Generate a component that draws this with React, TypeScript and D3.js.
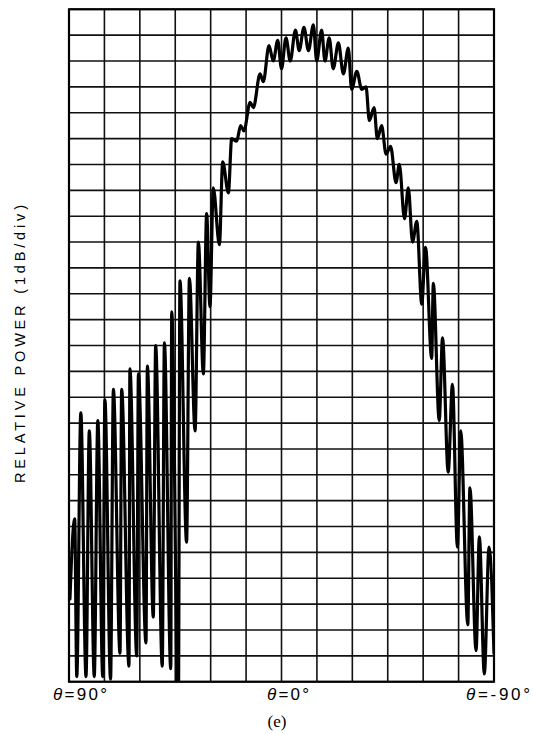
import React from 'react';
import * as d3 from 'd3';

// angle in degrees (left = +90, right = -90)
const angles = [
  89.6, 87.6, 86.7, 85.0, 82.8, 81.4, 79.3, 77.8, 75.7, 74.8, 72.4, 71.2, 68.4, 67.7, 64.6, 64.2,
  61.3, 60.6, 57.4, 56.8, 54.3, 53.3, 50.5, 49.6, 46.9, 46.5, 43.7, 43.0, 40.2, 39.0, 36.6, 35.2,
  33.1, 31.7, 30.3, 28.9, 26.3, 24.9, 22.5, 21.1, 19.0, 17.3, 15.9, 13.3, 11.9, 9.1, 7.7, 5.3,
  3.5, 1.6, 0.0, -1.9, -3.7, -5.9, -7.5, -9.5, -11.4, -13.5, -14.9, -17.0, -18.4, -20.2, -21.9, -24.1,
  -26.2, -28.3, -29.7, -31.9, -34.0, -35.8, -37.2, -39.2, -40.6, -42.4, -44.3, -46.2, -48.5, -49.9,
  -52.1, -53.7, -55.5, -57.3, -59.4, -61.0, -63.6, -64.3, -66.8, -68.2, -70.6, -72.4, -74.5, -75.9,
  -78.9, -79.8, -82.4, -83.8, -85.9, -87.9, -90.0,
];

// relative power in dB (top of grid = 0)
const power = [
  -22.8, -19.7, -25.8, -15.6, -25.8, -16.3, -25.8, -15.9, -25.8, -15.1, -25.9, -14.7, -24.9, -14.7, -25.4, -13.9,
  -25.0, -14.1, -24.5, -13.8, -23.5, -13.0, -25.4, -12.9, -25.5, -11.7, -27.5, -10.5, -20.6, -10.4, -16.3, -9.0,
  -14.1, -7.9, -11.5, -6.9, -9.1, -5.9, -7.1, -5.0, -5.1, -4.5, -4.7, -3.6, -3.8, -2.5, -2.8, -1.4,
  -2.0, -1.2, -2.3, -1.1, -2.0, -0.8, -1.6, -0.7, -1.6, -0.6, -2.0, -0.8, -2.0, -1.1, -2.3, -1.3,
  -2.5, -1.5, -3.1, -2.4, -3.1, -3.0, -4.3, -3.8, -5.0, -4.5, -5.6, -5.3, -6.7, -6.0,
  -8.1, -6.9, -9.0, -8.2, -11.4, -9.2, -13.5, -10.6, -15.9, -12.7, -17.9, -14.5, -20.8, -16.3,
  -23.8, -18.5, -24.8, -20.4, -25.7, -20.8, -24.9,
];

const xTicks = [90, 0, -90];
const xTickText = ['90°', '0°', '-90°'];

const W = 534;
const H = 734;
const left = 69;
const right = 494;
const top = 9.3;
const bottom = 681.7;

const App: React.FC = () => {
  const x = d3.scaleLinear().domain([90, -90]).range([left, right]);
  const y = d3.scaleLinear().domain([-26, 0]).range([bottom, top]);

  const pts: [number, number][] = angles.map((a, i) => [x(a), y(power[i])]);
  const line = d3.line().curve(d3.curveMonotoneX)(pts) || '';

  const vLines = d3.range(-90, 90.01, 15);
  const hLines = d3.range(-26, 0.01, 1);

  // label placement under the axis (start x, rendered length)
  const labelX = [53, 267, 466];
  const labelLen = [54, 42, 64];

  return (
    <svg width={W} height={H} style={{ position: 'absolute', left: 0, top: 0, background: '#fff' }}>
      <defs>
        <clipPath id="plot">
          <rect x={left} y={top} width={right - left} height={bottom - top} />
        </clipPath>
      </defs>
      <g stroke="#111" strokeWidth={1.6}>
        {vLines.map((v) => (
          <line key={'v' + v} x1={x(v)} x2={x(v)} y1={top} y2={bottom} />
        ))}
        {hLines.map((h) => (
          <line key={'h' + h} x1={left} x2={right} y1={y(h)} y2={y(h)} />
        ))}
      </g>
      <rect x={left} y={top} width={right - left} height={bottom - top} fill="none" stroke="#000" strokeWidth={2.2} />
      <path
        d={line}
        fill="none"
        stroke="#000"
        strokeWidth={3.2}
        strokeLinejoin="round"
        strokeLinecap="round"
        clipPath="url(#plot)"
      />
      {xTicks.map((t, i) => (
        <text
          key={t}
          x={labelX[i]}
          y={700}
          textLength={labelLen[i]}
          lengthAdjust="spacing"
          fontFamily="'Liberation Sans', Arial, sans-serif"
          fontSize={17}
          fill="#000"
        >
          <tspan fontStyle="italic">θ</tspan>
          {'=' + xTickText[i]}
        </text>
      ))}
      <text
        transform={`translate(25,344) rotate(-90)`}
        textAnchor="middle"
        fontFamily="'Liberation Sans', Arial, sans-serif"
        fontSize={14.5}
        textLength={278}
        lengthAdjust="spacing"
        fill="#000"
      >
        RELATIVE POWER (1dB/div)
      </text>
      <text x={277} y={727} textAnchor="middle" fontFamily="'Liberation Serif', 'Times New Roman', serif" fontSize={17} fill="#000">
        (e)
      </text>
    </svg>
  );
};

export default App;
